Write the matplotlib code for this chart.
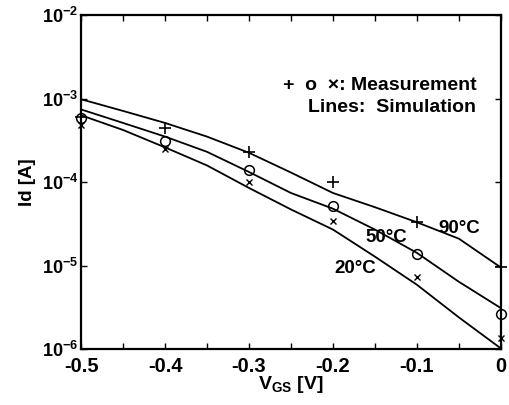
import math
import matplotlib
matplotlib.use("Agg")
import matplotlib.pyplot as plt
from matplotlib.ticker import FixedLocator, FuncFormatter, MultipleLocator

plt.rcParams["font.family"] = ["Liberation Sans", "DejaVu Sans"]
plt.rcParams["font.weight"] = "bold"
plt.rcParams["axes.labelweight"] = "bold"
plt.rcParams["mathtext.fontset"] = "custom"
plt.rcParams["mathtext.rm"] = "Liberation Sans:bold"
plt.rcParams["mathtext.it"] = "Liberation Sans:bold"
plt.rcParams["mathtext.bf"] = "Liberation Sans:bold"

# simulation lines, sampled every 0.05 V
vgs_sim = [-0.5, -0.45, -0.4, -0.35, -0.3, -0.25, -0.2, -0.15, -0.1, -0.05, 0.0]
sim_90 = [9.8e-4, 7.1e-4, 5.1e-4, 3.5e-4, 2.24e-4, 1.3e-4, 7.4e-5, 5.0e-5, 3.3e-5, 2.1e-5, 9.5e-6]
sim_50 = [7.4e-4, 5.1e-4, 3.5e-4, 2.3e-4, 1.32e-4, 7.4e-5, 4.8e-5, 2.7e-5, 1.42e-5, 6.4e-6, 3.1e-6]
sim_20 = [6.3e-4, 4.2e-4, 2.6e-4, 1.58e-4, 8.5e-5, 4.7e-5, 2.7e-5, 1.28e-5, 5.9e-6, 2.4e-6, 1.02e-6]

# measurements
vgs_meas = [-0.5, -0.4, -0.3, -0.2, -0.1, 0.0]
meas_90 = [6.0e-4, 4.4e-4, 2.3e-4, 1.0e-4, 3.3e-5, 9.5e-6]
meas_50 = [5.8e-4, 3.1e-4, 1.4e-4, 5.1e-5, 1.38e-5, 2.6e-6]
meas_20 = [4.8e-4, 2.5e-4, 1.0e-4, 3.4e-5, 7.4e-6, 1.35e-6]

fig = plt.figure(figsize=(5.1, 4.05), dpi=100)
ax = fig.add_axes([0.159, 0.138, 0.823, 0.825])

for sim in [sim_90, sim_50, sim_20]:
    ax.plot(vgs_sim, sim, color="black", lw=1.3)

ax.plot(vgs_meas, meas_90, "+", color="black", ms=8, mew=1.2, clip_on=False)
ax.plot(vgs_meas, meas_50, "o", color="black", mfc="none", ms=7, mew=1.1, clip_on=False)
ax.plot(vgs_meas, meas_20, "x", color="black", ms=4, mew=1.0, clip_on=False)

ax.set_yscale("log")
ax.set_xlim(-0.5, 0)
ax.set_ylim(1e-6, 1e-2)

ax.xaxis.set_major_locator(MultipleLocator(0.1))
ax.xaxis.set_minor_locator(MultipleLocator(0.05))
ax.yaxis.set_major_locator(FixedLocator([1e-6, 1e-5, 1e-4, 1e-3, 1e-2]))
ax.yaxis.set_minor_locator(FixedLocator([]))
ax.xaxis.set_major_formatter(FuncFormatter(lambda v, p: "0" if abs(v) < 1e-9 else "%.1f" % v))
ax.yaxis.set_major_formatter(FuncFormatter(lambda v, p: "$10^{%d}$" % round(math.log10(v))))

ax.tick_params(which="both", direction="in", top=True, right=True, length=4, width=1)
ax.tick_params(axis="x", labelsize=14.5, pad=6)
ax.tick_params(axis="y", labelsize=13, pad=2)
for lab in ax.get_xticklabels():
    lab.set_fontweight("bold")
for sp in ax.spines.values():
    sp.set_linewidth(1.6)

ax.set_xlabel("V$_{\\mathrm{GS}}$ [V]", fontsize=14, fontweight="bold", labelpad=-2)
ax.set_ylabel("Id [A]", fontsize=13.5, fontweight="bold", labelpad=4)

ax.text(-0.029, 1.44e-3, "+  o  \u00d7: Measurement", fontsize=14, fontweight="bold", ha="right", va="center")
ax.text(-0.029, 7.9e-4, "Lines:  Simulation", fontsize=14, fontweight="bold", ha="right", va="center")

ax.text(-0.05, 2.8e-5, "90\u00b0C", fontsize=13.5, fontweight="bold", ha="center", va="center")
ax.text(-0.136, 2.14e-5, "50\u00b0C", fontsize=13.5, fontweight="bold", ha="center", va="center")
ax.text(-0.173, 9.3e-6, "20\u00b0C", fontsize=13.5, fontweight="bold", ha="center", va="center")

fig.savefig("out.png", dpi=100)
